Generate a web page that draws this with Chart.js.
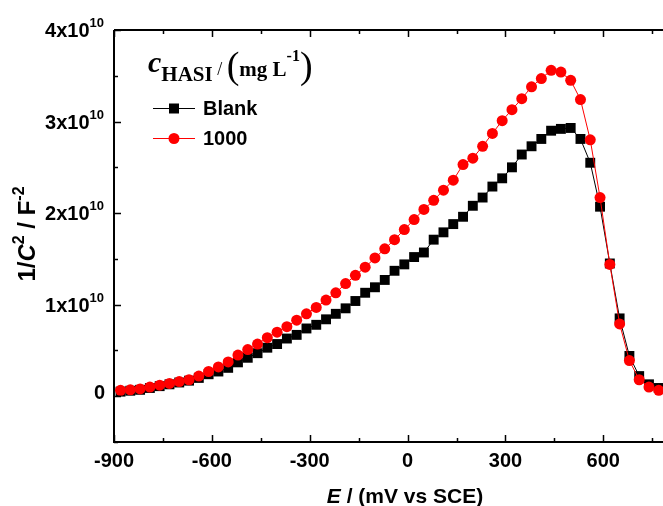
<!DOCTYPE html>
<html lang="en">
<head>
<meta charset="UTF-8">
<title>Mott-Schottky plot</title>
<style>
  body { margin: 0; background-color: #ffffff; }
  .chart-box { width: 663px; height: 506px; }
</style>
<script src="https://cdn.jsdelivr.net/npm/chart.js"></script>
</head>
<body>

<div class="chart-box">
  <canvas id="msChart" width="663" height="506"></canvas>
</div>

<script>
// potential E (mV vs SCE)
const potentials = [-880, -850, -820, -790, -760, -730, -700, -670, -640, -610,
  -580, -550, -520, -490, -460, -430, -400, -370, -340, -310,
  -280, -250, -220, -190, -160, -130, -100, -70, -40, -10,
  20, 50, 80, 110, 140, 170, 200, 230, 260, 290,
  320, 350, 380, 410, 440, 470, 500, 530, 560, 590,
  620, 650, 680, 710, 740, 770];

// 1/C^2 in units of 10^10 F^-2
const blank = [0.05, 0.06, 0.07, 0.09, 0.11, 0.13, 0.15, 0.17, 0.20, 0.24,
  0.27, 0.31, 0.37, 0.42, 0.47, 0.53, 0.57, 0.63, 0.67, 0.74,
  0.78, 0.84, 0.90, 0.96, 1.04, 1.13, 1.19, 1.27, 1.37, 1.44,
  1.52, 1.57, 1.71, 1.79, 1.88, 1.96, 2.08, 2.17, 2.29, 2.38,
  2.50, 2.64, 2.73, 2.81, 2.90, 2.92, 2.93, 2.81, 2.55, 2.07,
  1.45, 0.85, 0.44, 0.22, 0.13, 0.09];

const hasi1000 = [0.065, 0.07, 0.08, 0.10, 0.12, 0.14, 0.16, 0.18, 0.22, 0.27,
  0.32, 0.375, 0.45, 0.51, 0.57, 0.64, 0.70, 0.76, 0.83, 0.90,
  0.97, 1.05, 1.13, 1.23, 1.32, 1.41, 1.51, 1.61, 1.71, 1.82,
  1.93, 2.04, 2.14, 2.25, 2.36, 2.53, 2.60, 2.73, 2.87, 3.01,
  3.13, 3.25, 3.38, 3.47, 3.56, 3.54, 3.45, 3.24, 2.80, 2.17,
  1.44, 0.79, 0.39, 0.18, 0.10, 0.065];

const seriesNames = ['Blank', '1000'];
const xTicks = [-900, -600, -300, 0, 300, 600];
const yTicks = [0, 1, 2, 3, 4];
const xMin = -900, xMax = 783, xMinorStep = 150;
const yMin = -0.5, yMax = 4, yMinorStep = 0.5;

const SANS = '"Liberation Sans", Arial, sans-serif';
const SERIF = '"Liberation Serif", "Times New Roman", serif';

function richText(ctx, parts, x, y, align) {
  let w = 0;
  parts.forEach(p => { ctx.font = p.font; p.w = ctx.measureText(p.text).width; w += p.w; });
  let cx = align === 'right' ? x - w : align === 'center' ? x - w / 2 : x;
  ctx.textAlign = 'left';
  ctx.textBaseline = 'alphabetic';
  parts.forEach(p => {
    ctx.font = p.font;
    ctx.fillText(p.text, cx, y + (p.dy || 0));
    cx += p.w;
  });
}

const toPoints = ys => potentials.map((e, i) => ({ x: e, y: ys[i] }));

// axes, ticks, titles and legend, drawn on top of the plot
const framePlugin = {
  id: 'framePlugin',
  afterDraw(chart) {
    const { ctx, chartArea: a, scales: { x, y } } = chart;
    ctx.save();
    ctx.fillStyle = '#000';
    ctx.strokeStyle = '#000';

    ctx.lineWidth = 2;
    ctx.beginPath();
    ctx.moveTo(a.left, a.top);
    ctx.lineTo(a.left, a.bottom);
    ctx.lineTo(a.right, a.bottom);
    ctx.moveTo(a.left, a.top);
    ctx.lineTo(a.right, a.top);
    ctx.stroke();

    ctx.lineWidth = 1.5;
    ctx.beginPath();
    for (let v = xMin; v <= xMax; v += xMinorStep) {
      const px = Math.round(x.getPixelForValue(v)) + 0.5;
      const len = xTicks.includes(v) ? 7 : 4;
      ctx.moveTo(px, a.bottom);
      ctx.lineTo(px, a.bottom - len);
      ctx.moveTo(px, a.top);
      ctx.lineTo(px, a.top + len);
    }
    for (let v = yMin; v <= yMax; v += yMinorStep) {
      const py = Math.round(y.getPixelForValue(v)) + 0.5;
      const len = yTicks.includes(v) ? 7 : 4;
      ctx.moveTo(a.left, py);
      ctx.lineTo(a.left + len, py);
    }
    ctx.stroke();

    // x tick labels
    xTicks.forEach(v => {
      richText(ctx, [{ text: String(v), font: 'bold 20px ' + SANS }], x.getPixelForValue(v), a.bottom + 25, 'center');
    });
    // y tick labels
    yTicks.forEach(v => {
      const py = y.getPixelForValue(v);
      if (v === 0) {
        richText(ctx, [{ text: '0', font: 'bold 20px ' + SANS }], a.left - 9, py + 3, 'right');
      } else {
        richText(ctx, [
          { text: v + 'x10', font: 'bold 20px ' + SANS },
          { text: '10', font: 'bold 13px ' + SANS, dy: -10 }
        ], a.left - 10, py + 7, 'right');
      }
    });

    // x title
    richText(ctx, [
      { text: 'E', font: 'italic bold 21px ' + SANS },
      { text: ' / (mV vs SCE)', font: 'bold 21px ' + SANS }
    ], 405, 503, 'center');

    // y title
    ctx.save();
    ctx.translate(35, 234);
    ctx.rotate(-Math.PI / 2);
    richText(ctx, [
      { text: '1/', font: 'bold 24px ' + SANS },
      { text: 'C', font: 'italic bold 24px ' + SANS },
      { text: '2', font: 'bold 16px ' + SANS, dy: -11 },
      { text: ' / F', font: 'bold 24px ' + SANS },
      { text: '-2', font: 'bold 16px ' + SANS, dy: -11 }
    ], 0, 0, 'center');
    ctx.restore();

    // legend title
    richText(ctx, [
      { text: 'c', font: 'italic bold 30px ' + SERIF },
      { text: 'HASI', font: 'bold 21px ' + SERIF, dy: 9 },
      { text: ' / ', font: '18px ' + SERIF, dy: 3 },
      { text: '(', font: '38px ' + SERIF, dy: 6 },
      { text: 'mg L', font: 'bold 21px ' + SERIF, dy: 4 },
      { text: '-1', font: 'bold 16px ' + SERIF, dy: -11 },
      { text: ')', font: '38px ' + SERIF, dy: 6 }
    ], 148, 72, 'left');

    // legend entries
    const entries = [
      { name: seriesNames[0], color: '#000000', shape: 'rect', yy: 108 },
      { name: seriesNames[1], color: '#ff0000', shape: 'circle', yy: 138 }
    ];
    entries.forEach(e => {
      ctx.strokeStyle = e.color;
      ctx.fillStyle = e.color;
      ctx.lineWidth = 1;
      ctx.beginPath();
      ctx.moveTo(153, e.yy + 0.5);
      ctx.lineTo(195, e.yy + 0.5);
      ctx.stroke();
      if (e.shape === 'rect') {
        ctx.fillRect(169, e.yy - 4.5, 10, 10);
      } else {
        ctx.beginPath();
        ctx.arc(174, e.yy + 0.5, 5.5, 0, Math.PI * 2);
        ctx.fill();
      }
      ctx.fillStyle = '#000';
      richText(ctx, [{ text: e.name, font: 'bold 20px ' + SANS }], 203, e.yy + 7, 'left');
    });
    ctx.restore();
  }
};

new Chart(document.getElementById('msChart'), {
  type: 'line',
  data: {
    datasets: [
      {
        label: seriesNames[1],
        data: toPoints(hasi1000),
        borderColor: '#ff0000',
        backgroundColor: '#ff0000',
        borderWidth: 1,
        pointStyle: 'circle',
        pointRadius: 5.5,
        pointBorderWidth: 0,
        tension: 0
      },
      {
        label: seriesNames[0],
        data: toPoints(blank),
        borderColor: '#000000',
        backgroundColor: '#000000',
        borderWidth: 1,
        pointStyle: 'rect',
        pointRadius: 7,
        pointBorderWidth: 0,
        tension: 0
      }
    ]
  },
  options: {
    responsive: false,
    animation: false,
    layout: { autoPadding: false, padding: { top: 30, right: 0, left: 0, bottom: 0 } },
    plugins: { legend: { display: false }, tooltip: { enabled: false } },
    scales: {
      x: {
        type: 'linear', min: xMin, max: xMax,
        grid: { display: false }, border: { display: false },
        ticks: { display: false },
        afterFit: s => { s.height = 64; }
      },
      y: {
        type: 'linear', min: yMin, max: yMax,
        grid: { display: false }, border: { display: false },
        ticks: { display: false },
        afterFit: s => { s.width = 114; }
      }
    }
  },
  plugins: [framePlugin]
});
</script>

</body>
</html>
